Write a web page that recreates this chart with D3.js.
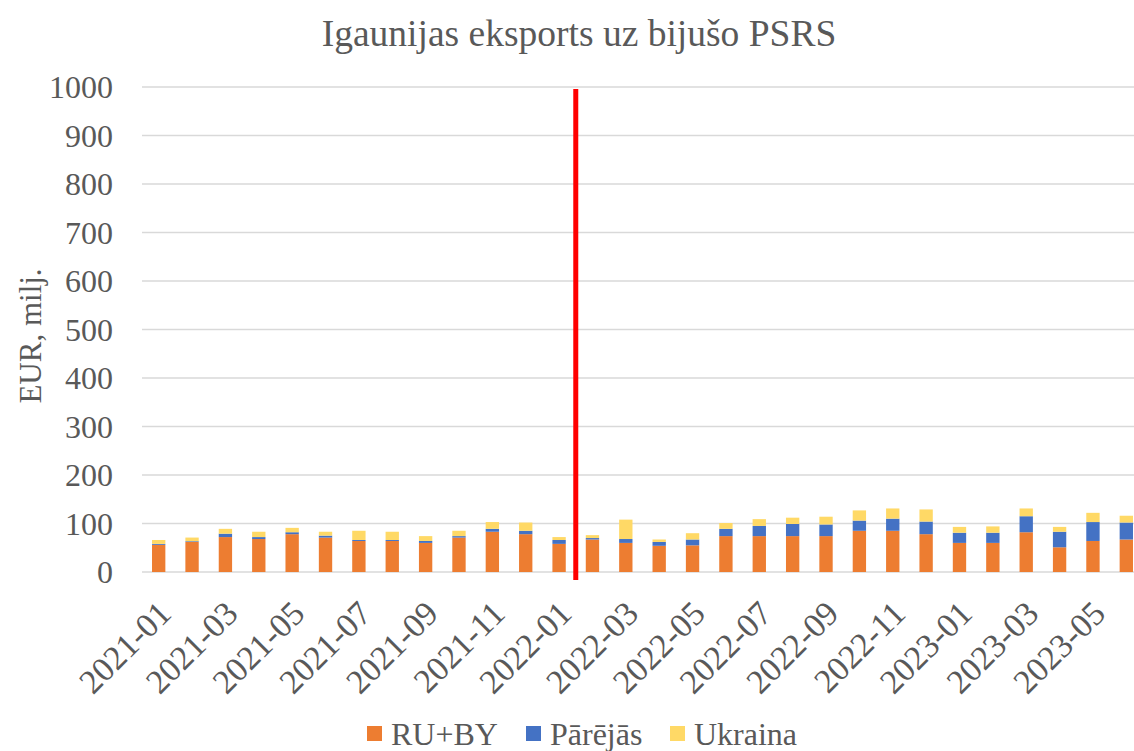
<!DOCTYPE html>
<html>
<head>
<meta charset="utf-8">
<script src="https://cdn.jsdelivr.net/npm/d3@7"></script>
<style>
  body { margin: 0; background: #fff; }
  svg { display: block; }
</style>
</head>
<body>
<svg id="chart" width="1134" height="751"></svg>
<script>
// months 2021-01 .. 2023-06
var months = ["2021-01","2021-02","2021-03","2021-04","2021-05","2021-06","2021-07","2021-08","2021-09","2021-10","2021-11","2021-12",
              "2022-01","2022-02","2022-03","2022-04","2022-05","2022-06","2022-07","2022-08","2022-09","2022-10","2022-11","2022-12",
              "2023-01","2023-02","2023-03","2023-04","2023-05","2023-06"];
var ruby    = [56, 62, 72, 68, 78, 71, 64, 64, 60, 71, 83, 78, 58, 67, 60, 54, 55, 74, 74, 74, 74, 85, 85, 78, 60, 60, 82, 51, 64, 67];
var parejas = [2, 1.5, 7, 4, 4, 4, 2, 2, 4, 3, 6, 7, 8, 3, 8, 8, 12, 15, 21, 25, 24, 21, 25, 26, 21, 21, 33, 32, 39, 35];
var ukraina = [8, 7.5, 10, 11, 9, 8, 19, 17, 10, 11, 14, 17, 6, 6, 40, 5, 13, 12, 14, 13, 16, 21, 21, 25, 12, 13, 16, 10, 19, 14];
var seriesNames = ["RU+BY", "Pārējās", "Ukraina"];
var colors = ["#ED7D31", "#4472C4", "#FFD966"];
var yTicks = [0, 100, 200, 300, 400, 500, 600, 700, 800, 900, 1000];
var markerAfter = "2022-01";

var svg = d3.select("#chart");
var font = "'Liberation Serif', 'Times New Roman', serif";
var textColor = "#595959";

var margin = { left: 142, right: -9, top: 87, bottom: 179 };
var width = 1134 - margin.left - margin.right;
var height = 751 - margin.top - margin.bottom;

var g = svg.append("g").attr("transform", `translate(${margin.left},${margin.top})`);

var x = d3.scaleBand().domain(months).range([0, width]).paddingInner(0.6).paddingOuter(0.3);
var y = d3.scaleLinear().domain([0, 1000]).range([height, 0]);

// gridlines
g.selectAll(".grid")
    .data(yTicks)
    .enter()
    .append("line")
    .attr("x1", 0)
    .attr("x2", width)
    .attr("y1", d => y(d))
    .attr("y2", d => y(d))
    .attr("stroke", "#D9D9D9")
    .attr("stroke-width", 1.5);

// stacked data
var table = months.map(function (m, i) {
    return { month: m, "RU+BY": ruby[i], "Pārējās": parejas[i], "Ukraina": ukraina[i] };
});
var stacked = d3.stack().keys(seriesNames)(table);

g.selectAll(".layer")
    .data(stacked)
    .enter()
    .append("g")
    .attr("fill", (d, i) => colors[i])
    .selectAll("rect")
    .data(d => d)
    .enter()
    .append("rect")
    .attr("x", d => x(d.data.month))
    .attr("width", x.bandwidth())
    .attr("y", d => y(d[1]))
    .attr("height", d => y(d[0]) - y(d[1]));

// y axis labels
g.selectAll(".ylab")
    .data(yTicks)
    .enter()
    .append("text")
    .attr("x", -29)
    .attr("y", d => y(d))
    .attr("dy", "0.35em")
    .attr("text-anchor", "end")
    .attr("font-family", font)
    .attr("font-size", 32)
    .attr("fill", textColor)
    .text(d => d);

// x labels, every second month
g.selectAll(".xlab")
    .data(months.filter((d, i) => i % 2 === 0))
    .enter()
    .append("text")
    .attr("transform", d => `translate(${x(d) + x.bandwidth() / 2 + 6},${height + 35}) rotate(-45)`)
    .attr("text-anchor", "end")
    .attr("dy", "0.35em")
    .attr("font-family", font)
    .attr("font-size", 34)
    .attr("fill", textColor)
    .text(d => d);

// red marker line between 2022-01 and 2022-02
var step = x.step();
var mx = x(markerAfter) + x.bandwidth() + (step - x.bandwidth()) / 2;
g.append("line")
    .attr("x1", mx)
    .attr("x2", mx)
    .attr("y1", y(1000) + 2)
    .attr("y2", height + 8)
    .attr("stroke", "#FF0000")
    .attr("stroke-width", 5);

// title
svg.append("text")
    .attr("x", 579)
    .attr("y", 46)
    .attr("text-anchor", "middle")
    .attr("font-family", font)
    .attr("font-size", 37.5)
    .attr("fill", textColor)
    .text("Igaunijas eksports uz bijušo PSRS");

// y axis title
svg.append("text")
    .attr("transform", "translate(41,336) rotate(-90)")
    .attr("text-anchor", "middle")
    .attr("font-family", font)
    .attr("font-size", 31)
    .attr("fill", textColor)
    .text("EUR, milj.");

// legend
var legendX = [367, 526, 670];
var legend = svg.selectAll(".legend")
    .data(seriesNames)
    .enter()
    .append("g")
    .attr("transform", (d, i) => `translate(${legendX[i]},734)`);
legend.append("rect")
    .attr("x", 0)
    .attr("y", -8)
    .attr("width", 15)
    .attr("height", 15)
    .attr("fill", (d, i) => colors[i]);
legend.append("text")
    .attr("x", 24)
    .attr("y", 0)
    .attr("dy", "0.35em")
    .attr("font-family", font)
    .attr("font-size", 32)
    .attr("fill", textColor)
    .text(d => d);
</script>
</body>
</html>
